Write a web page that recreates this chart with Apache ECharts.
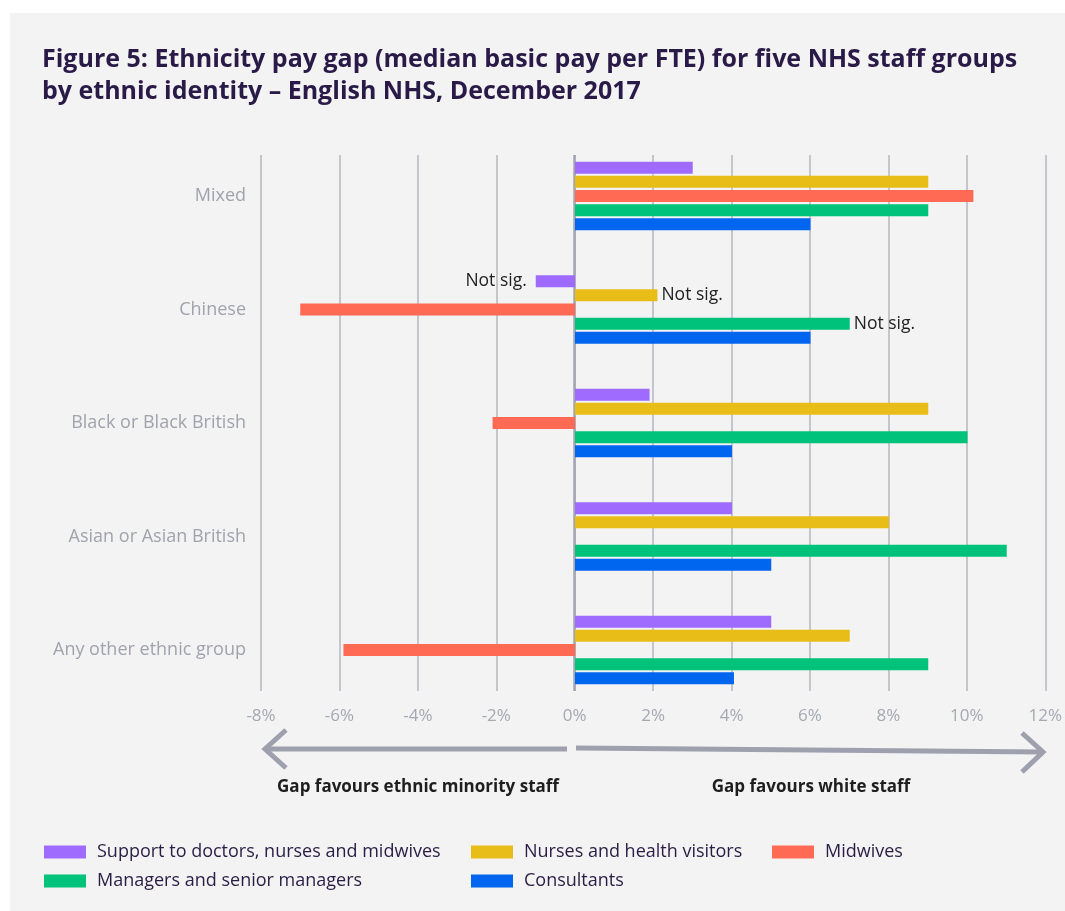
<!DOCTYPE html>
<html>
<head>
<meta charset="utf-8">
<script src="https://cdn.jsdelivr.net/npm/echarts@6/dist/echarts.min.js"></script>
<style>
html,body{margin:0;padding:0;background:#ffffff;}
#c{width:1065px;height:911px;}
</style>
</head>
<body>
<div id="c"></div>
<script>
const categories = ['Mixed', 'Chinese', 'Black or Black British', 'Asian or Asian British', 'Any other ethnic group'];
const seriesNames = ['Support to doctors, nurses and midwives', 'Nurses and health visitors', 'Midwives', 'Managers and senior managers', 'Consultants'];
const support = [3.0, -1.0, 1.9, 4.0, 5.0];
const nurses = [9.0, 2.1, 9.0, 8.0, 7.0];
const midwives = [10.15, -7.0, -2.1, null, -5.9];
const managers = [9.0, 7.0, 10.0, 11.0, 9.0];
const consultants = [6.0, 6.0, 4.0, 5.0, 4.05];
const xTicks = [-8, -6, -4, -2, 0, 2, 4, 6, 8, 10, 12];
// [series index, category index] of bars flagged "Not sig."
const notSig = [[0, 1], [1, 1], [3, 1]];
const notSigText = 'Not sig.';

const colors = ['#9f6bff', '#e8bd17', '#ff6a55', '#00c27a', '#0066f0'];
const values = [support, nurses, midwives, managers, consultants];
const FONT = '"Open Sans", Lato, sans-serif';

const chart = echarts.init(document.getElementById('c'), null, {renderer: 'canvas'});

const series = values.map(function (arr, si) {
  return {
    name: seriesNames[si],
    type: 'bar',
    xAxisIndex: 0,
    yAxisIndex: 0,
    barWidth: 12,
    barGap: '18%',
    itemStyle: {color: colors[si]},
    z: 5,
    data: arr.map(function (v, ci) {
      const flagged = notSig.some(function (p) { return p[0] === si && p[1] === ci; });
      const d = {value: v};
      if (flagged) {
        d.label = {
          show: true,
          formatter: notSigText,
          position: v < 0 ? 'left' : 'right',
          distance: v < 0 ? 9 : 4,
          color: '#222222',
          fontSize: 17.5,
          fontFamily: FONT
        };
      }
      return d;
    })
  };
});

series.push({
  type: 'line',
  xAxisIndex: 1,
  yAxisIndex: 1,
  data: [],
  silent: true,
  markLine: {
    silent: true,
    symbol: 'none',
    label: {show: false},
    lineStyle: {color: '#a3a6b1', width: 2.5, type: 'solid'},
    data: [{xAxis: 0}]
  },
  z: 6
});

const legendBase = {
  orient: 'vertical',
  itemWidth: 42,
  itemHeight: 13,
  itemGap: 9,
  icon: 'rect',
  top: 842,
  padding: 0,
  textStyle: {color: '#2a1d45', fontSize: 18, fontFamily: FONT, lineHeight: 20, padding: [0, 0, 0, 6]},
  selectedMode: false
};

const option = {
  backgroundColor: '#ffffff',
  animation: false,
  color: colors,
  title: {
    text: 'Figure 5: Ethnicity pay gap (median basic pay per FTE) for five NHS staff groups\nby ethnic identity – English NHS, December 2017',
    left: 37,
    top: 39,
    textStyle: {color: '#2a1a47', fontSize: 25, fontWeight: 'bold', fontFamily: FONT, lineHeight: 32}
  },
  legend: [
    Object.assign({}, legendBase, {left: 44, data: [seriesNames[0], seriesNames[3]]}),
    Object.assign({}, legendBase, {left: 471, data: [seriesNames[1], seriesNames[4]]}),
    Object.assign({}, legendBase, {left: 772, data: [seriesNames[2]]})
  ],
  grid: [
    {left: 261, right: 19, top: 139.25, bottom: 204.25, containLabel: false},
    {left: 261, right: 19, top: 155, bottom: 220, containLabel: false}
  ],
  xAxis: [
    {
      type: 'value', gridIndex: 0, min: -8, max: 12, interval: 2,
      axisLine: {show: false}, axisTick: {show: false}, axisLabel: {show: false}, splitLine: {show: false}
    },
    {
      type: 'value', gridIndex: 1, min: xTicks[0], max: xTicks[xTicks.length - 1], interval: 2,
      axisLine: {show: false}, axisTick: {show: false},
      splitLine: {show: true, lineStyle: {color: '#b4b6c1', width: 1.5}},
      axisLabel: {
        color: '#a5a8b2', fontSize: 17, fontFamily: FONT, margin: 17,
        formatter: function (v) { return v + '%'; }
      }
    }
  ],
  yAxis: [
    {
      type: 'category', gridIndex: 0, data: categories, inverse: true,
      axisLine: {show: false}, axisTick: {show: false}, splitLine: {show: false},
      axisLabel: {color: '#a0a3ad', fontSize: 18, fontFamily: FONT, margin: 15}
    },
    {
      type: 'value', gridIndex: 1, min: 0, max: 1, show: false,
      splitLine: {show: false}
    }
  ],
  graphic: [
    {type: 'rect', left: 10, top: 13, z: -100, shape: {width: 1055, height: 898}, style: {fill: '#f3f3f3'}},
    {type: 'polyline', z: 10, shape: {points: [[567, 749], [265, 749]]}, style: {stroke: '#9ea1ad', lineWidth: 5, fill: null}},
    {type: 'polyline', z: 10, shape: {points: [[286, 730], [265, 749], [286, 768]]}, style: {stroke: '#9ea1ad', lineWidth: 5, fill: null}},
    {type: 'polyline', z: 10, shape: {points: [[576, 748], [1043, 752]]}, style: {stroke: '#9ea1ad', lineWidth: 5, fill: null}},
    {type: 'polyline', z: 10, shape: {points: [[1022, 733], [1043, 752], [1022, 772]]}, style: {stroke: '#9ea1ad', lineWidth: 5, fill: null}},
    {type: 'text', z: 10, x: 418, y: 787, style: {text: 'Gap favours ethnic minority staff', fill: '#1e1e1e', font: 'bold 17px ' + FONT, textAlign: 'center', textVerticalAlign: 'middle'}},
    {type: 'text', z: 10, x: 811, y: 787, style: {text: 'Gap favours white staff', fill: '#1e1e1e', font: 'bold 17px ' + FONT, textAlign: 'center', textVerticalAlign: 'middle'}}
  ],
  series: series
};

chart.setOption(option);
</script>
</body>
</html>
